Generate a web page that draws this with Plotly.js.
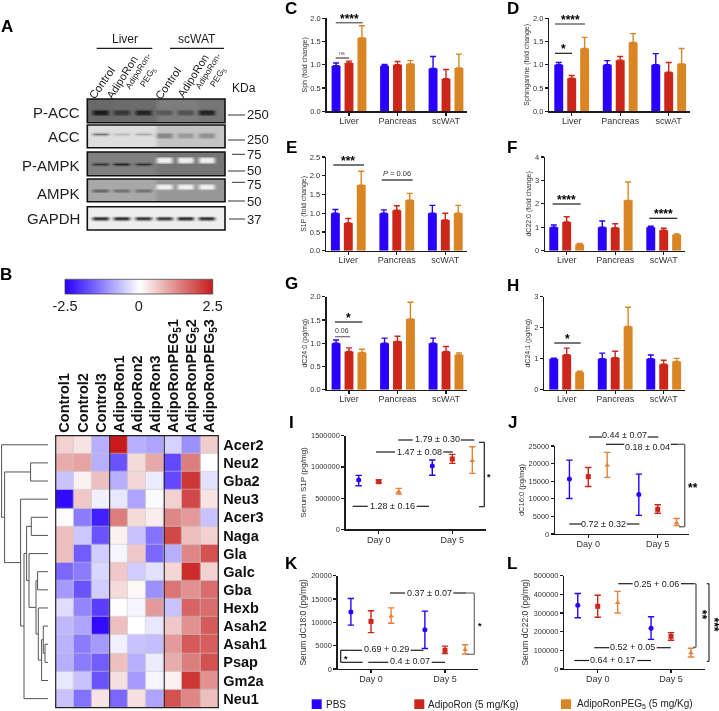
<!DOCTYPE html>
<html><head><meta charset="utf-8">
<script src="https://cdn.plot.ly/plotly-3.0.1.min.js"></script>
<style>html,body{margin:0;padding:0;background:#fff}#g{width:719px;height:711px;filter:blur(0.3px)}</style>
</head><body><div id="g"></div>
<script>
const W=719,H=711,FONT='"Liberation Sans",Arial,sans-serif';
const BLUE='#2b00ff',RED='#cc2519',ORANGE='#d98523',ORANGE2='#e6803a',INK='#1c1c1c',GREY='#6e6e6e';
const seriesColors=[BLUE,RED,ORANGE];

/* ---------- bar panels: [PBS, AdipoRon, AdipoRonPEG5] per tissue ---------- */
const tissues=['Liver','Pancreas','scWAT'];
const tissuesD=['Liver','Pancreas','scwAT'];
const sphMeans=[[.98,.98,.92],[1.04,1.0,.7],[1.58,1.02,.93]];
const sphTops=[[1.04,1.01,1.18],[1.08,1.07,.9],[1.84,1.09,1.23]];
const sphingMeans=[[1,1,1],[.71,1.1,.84],[1.35,1.48,1.02]];
const sphingTops=[[1.05,1.09,1.24],[.77,1.18,1.05],[1.59,1.67,1.35]];
const s1pMeans=[[1,1,1],[.74,1.08,.82],[1.75,1.35,1.0]];
const s1pTops=[[1.1,1.09,1.21],[.86,1.2,1.0],[2.12,1.53,1.21]];
const c22Means=[[1,1,1],[1.23,.98,.87],[.27,2.15,.68]];
const c22Tops=[[1.1,1.27,1.05],[1.45,1.15,.96],[.31,2.93,.72]];
const c24Means=[[1,1,1],[.82,1.04,.82],[.8,1.52,.75]];
const c24Tops=[[1.07,1.11,1.11],[.9,1.15,.93],[.87,1.88,.79]];
const c241Means=[[1,1,1],[1.13,1.03,.82],[.56,2.04,.91]];
const c241Tops=[[1.02,1.18,1.12],[1.34,1.24,.95],[.6,2.66,1.01]];

/* ---------- serum panels: rows = series, [day0, day5] ---------- */
const days=['Day 0','Day 5'];
const iMid=[[790000,1014000],[763000,1126000],[603000,1100000]];
const iHigh=[[864000,1110000],[790000,1200000],[656000,1324000]];
const iLow=[[699000,865000],[745000,1057000],[566000,897000]];
const jMid=[[15600,11200],[16300,7000],[19500,3100]];
const jHigh=[[21000,17000],[18900,8300],[23200,4400]];
const jLow=[[10100,5300],[13500,5900],[16100,2400]];
const kMid=[[12200,8400],[10200,4000],[11300,4100]];
const kHigh=[[15100,12400],[12500,4900],[13100,5200]];
const kLow=[[9400,4400],[7800,3300],[9800,3200]];
const lMid=[[341000,218000],[336000,175000],[355000,86000]];
const lHigh=[[405000,280000],[395000,195000],[416000,111000]];
const lLow=[[275000,159000],[277000,154000],[300000,64000]];

/* ---------- heatmap ---------- */
const sampleLabels=['Control1','Control2','Control3','AdipoRon1','AdipoRon2','AdipoRon3','AdipoRonPEG<sub>5</sub>1','AdipoRonPEG<sub>5</sub>2','AdipoRonPEG<sub>5</sub>3'];
const geneLabels=['Acer2','Neu2','Gba2','Neu3','Acer3','Naga','Gla','Galc','Gba','Hexb','Asah2','Asah1','Psap','Gm2a','Neu1'];
const geneZ=[
[.5,.3,-.8,2.5,-.8,-.9,-.45,-1.1,.55],
[.9,1.0,-.8,-1.7,.4,.95,-1.8,1.4,0],
[-.6,.15,.7,-.8,.45,-.2,-1.8,2.2,-.3],
[-2.4,.6,-.15,-.25,-.9,-.05,.5,2.0,.3],
[.03,-1.3,-2.2,1.4,.4,.2,1.3,1.1,-.6],
[.7,-.55,-1.7,.15,-.6,-1.4,2.0,.7,.5],
[.7,-1.6,-.5,-.1,.6,-1.5,-.8,1.3,1.9],
[-1.5,-1.3,-.4,.6,-.5,-.3,.45,2.3,.5],
[-1.0,-1.7,-.5,.4,.08,-1.1,1.5,1.2,1.6],
[-.35,-1.2,-1.9,.02,-.1,1.1,-.6,1.7,1.6],
[-.7,-.9,-2.4,.7,0,-.25,.6,1.2,1.8],
[-.75,-1.3,-1.0,-.15,-.6,-.65,1.1,1.8,1.75],
[-.8,-1.3,-1.6,.7,-.8,-.2,.9,1.4,1.9],
[-.25,-.6,-1.7,.35,-1.0,-.1,.15,2.2,1.2],
[-.6,-1.4,.3,-1.5,.35,-.9,1.9,1.3,.7]];
const colorbarValues=[-2.5,-2,-1.5,-1,-.5,0,.5,1,1.5,2,2.5];
/* dendrogram merges: [child A, child B, distance from leaves]; child < 15 is a leaf row, child >=15 is merge (child-15) */
const dendroMerges=[[1,2,17.7],[4,5,17],[7,8,10.7],[11,12,3.3],[10,18,5],[19,13,6.7],[9,20,10],[17,21,12.3],[6,22,19.3],[16,23,21.7],[24,14,24.3],[3,25,27.7],[15,26,43.7],[0,27,46.7]];

/* ---------- western blots: grey levels per lane ---------- */
const blotNames=['P-ACC','ACC','P-AMPK','AMPK','GAPDH'];
const blotBg=[[105,108,108,125,125,118],[222,222,222,196,196,196],[128,128,128,118,118,118],[168,168,168,150,150,150],[238,238,238,238,238,238]];
const blotBand=[[28,55,35,88,82,35],[120,185,170,135,155,145],[50,32,50,238,238,238],[95,105,105,240,240,240],[15,15,22,28,10,18]];
const blotRowsLiver=[[4,5],[3],[4],[4],[4]];
const blotRowsWat=[[4,5],[3,4],[2,3],[2,3],[4]];

/* ---------- builders ---------- */
const traces=[],shapes=[],annotations=[],layout={};
let axisCount=0;
const px=x=>x/W, py=y=>1-y/H;
function addAxes(x0,x1,yTop,yBot,xopt,yopt){
  axisCount++;const n=axisCount===1?'':String(axisCount);
  layout['xaxis'+n]=Object.assign({domain:[px(x0),px(x1)],anchor:'y'+n,showgrid:false,zeroline:false,fixedrange:true},xopt);
  layout['yaxis'+n]=Object.assign({domain:[py(yBot),py(yTop)],anchor:'x'+n,showgrid:false,zeroline:false,fixedrange:true},yopt);
  return {xaxis:'x'+n,yaxis:'y'+n};
}
function seg(x0,y0,x1,y1,color,width){shapes.push({type:'line',xref:'paper',yref:'paper',x0:px(x0),y0:py(y0),x1:px(x1),y1:py(y1),line:{color:color||INK,width:width||1.2}});}
function label(text,x,y,size,o){o=o||{};annotations.push({text,x:px(x),y:py(y),xref:'paper',yref:'paper',showarrow:false,xanchor:o.anchor||'center',yanchor:'middle',textangle:o.angle||0,align:o.align||'center',borderpad:0,font:{family:FONT,size,color:o.color||INK}});}
const bold=s=>'<b>'+s+'</b>';

function axisStyle(size){return {showline:true,linecolor:INK,linewidth:1.4,ticks:'outside',ticklen:3,tickwidth:1.2,tickcolor:INK,tickfont:{family:FONT,size,color:'#333'}};}

function barPanel(box,cats,means,tops,yMax,dtick,title,tickFmt){
  const ax=addAxes(box[0],box[1],box[2],box[3],
    Object.assign(axisStyle(9),{ticklabelstandoff:-3,type:'category',categoryorder:'array',categoryarray:cats,range:[-(box[4]-box[0])/48.5,(box[1]-box[4])/48.5]}),
    Object.assign(axisStyle(7.5),{range:[0,yMax],dtick,tickformat:tickFmt,title:{text:title,font:{family:FONT,size:7,color:'#333'},standoff:2}}));
  means.forEach((m,i)=>traces.push(Object.assign({type:'bar',x:cats,y:m,marker:{color:seriesColors[i],line:{width:0}},showlegend:false,
    error_y:{type:'data',symmetric:false,array:tops[i].map((t,j)=>t-m[j]),arrayminus:m.map(()=>0),color:seriesColors[i],thickness:1.4,width:3}},ax)));
}
const seriesOffset=[-0.272,0,0.272],seriesSymbol=['circle','square','triangle-up'],scatterColors=[BLUE,RED,ORANGE2];
function dotPanel(box,mid,high,low,yMax,dtick,title,titleSize){
  const pitch=box[5]-box[4];
  const ax=addAxes(box[0],box[1],box[2],box[3],
    Object.assign(axisStyle(9),{ticklabelstandoff:-2,range:[(box[0]-box[4])/pitch,(box[1]-box[4])/pitch],tickvals:[0,1],ticktext:days}),
    Object.assign(axisStyle(7.4),{range:[0,yMax],dtick,tickformat:'d',title:{text:title,font:{family:FONT,size:titleSize,color:'#333'},standoff:3}}));
  mid.forEach((m,i)=>traces.push(Object.assign({type:'scatter',mode:'markers',x:[0+seriesOffset[i],1+seriesOffset[i]],y:m,showlegend:false,cliponaxis:false,
    marker:{color:scatterColors[i],symbol:seriesSymbol[i],size:5},
    error_y:{type:'data',symmetric:false,array:high[i].map((h,j)=>h-m[j]),arrayminus:low[i].map((l,j)=>m[j]-l),color:scatterColors[i],thickness:1.4,width:3.2}},ax)));
}

/* bar panels: [axis x, x end, y top, y zero, liver centre] */
barPanel([326.7,466.7,18.3,111.3,349],tissues,sphMeans,sphTops,2,.5,'Sph (fold change)','.1f');
barPanel([549.3,690,18.3,111.3,571.7],tissuesD,sphingMeans,sphingTops,2,.5,'Sphinganine (fold change)','.1f');
barPanel([326,466.7,157,250.7,348.3],tissues,s1pMeans,s1pTops,2.5,.5,'S1P (fold change)','.1f');
barPanel([545,685,157,250.7,566.7],tissues,c22Means,c22Tops,4,1,'dC22:0 (fold change)','d');
barPanel([326.7,466.7,296.7,389.7,349],tissues,c24Means,c24Tops,2,.5,'dC24:0 (pg/mg)','.1f');
barPanel([544.3,685,296.7,389.7,566.7],tissues,c241Means,c241Tops,3,1,'dC24:1 (pg/mg)','d');

/* dot panels: [axis x, x end, y top, y zero, day0 x, day5 x] */
dotPanel([345.7,485.7,435.7,529.3,378.7,452.3],iMid,iHigh,iLow,1500000,500000,'Serum S1P (pg/mg)',8);
dotPanel([555,689,446,534,588.3,657.7],jMid,jHigh,jLow,25000,5000,'dC16:0 (pg/mg)',7.5);
dotPanel([337.7,478.3,575.7,669,371,445],kMid,kHigh,kLow,20000,5000,'Serum dC18:0 (pg/mg)',8.5);
dotPanel([564.3,705,575.7,669,597.7,671],lMid,lHigh,lLow,500000,100000,'Serum dC22:0 (pg/mg)',8.5);

/* heat map */
const hmScale=[[0,'#2a00ff'],[.25,'#8f80ff'],[.5,'#ffffff'],[.75,'#e08c8c'],[1,'#c81a1a']];
const hmAxes=addAxes(55.7,218.3,435.7,707.7,
  {type:'category',side:'top',tickangle:-90,ticks:'',ticklabelstandoff:2,tickfont:{family:FONT,size:14.5,color:'#111'},categoryorder:'array',categoryarray:sampleLabels},
  {type:'category',side:'right',autorange:'reversed',ticks:'',ticklabelstandoff:4,tickfont:{family:FONT,size:14.5,color:'#111'},categoryorder:'array',categoryarray:geneLabels});
traces.push(Object.assign({type:'heatmap',x:sampleLabels.map(bold),y:geneLabels.map(bold),z:geneZ,zmin:-2.5,zmax:2.5,colorscale:hmScale,showscale:false,xgap:.6,ygap:.6},hmAxes));
layout[hmAxes.xaxis.replace('x','xaxis')].categoryarray=sampleLabels.map(bold);
layout[hmAxes.yaxis.replace('y','yaxis')].categoryarray=geneLabels.map(bold);
shapes.push({type:'rect',xref:'paper',yref:'paper',layer:'below',x0:px(55.7),x1:px(218.3),y0:py(707.7),y1:py(435.7),fillcolor:'#c8c8c8',line:{width:0}});
shapes.push({type:'rect',xref:'paper',yref:'paper',x0:px(55.7),x1:px(218.3),y0:py(707.7),y1:py(435.7),line:{color:'#222',width:1.2}});
seg(109.7,435.7,109.7,707.7,'#222',1);seg(164.3,435.7,164.3,707.7,'#222',1);

/* colour bar */
const cbAxes=addAxes(65,212.7,279.3,294,
  {range:[-2.5,2.5],tickvals:[-2.5,0,2.5],ticktext:['-2.5','0','2.5'],ticks:'outside',ticklen:2,ticklabelstandoff:-3,tickcolor:'rgba(0,0,0,0)',tickfont:{family:FONT,size:14.5,color:'#222'}},
  {range:[0,1],visible:false});
traces.push(Object.assign({type:'heatmap',x:colorbarValues,y:[0,1],z:[colorbarValues,colorbarValues],zmin:-2.5,zmax:2.5,colorscale:hmScale,showscale:false,zsmooth:'best'},cbAxes));
shapes.push({type:'rect',xref:'paper',yref:'paper',x0:px(65),x1:px(212.7),y0:py(294),y1:py(279.3),line:{color:'#444',width:.8}});

/* dendrogram */
const dAxes=addAxes(0,48.3,435.7,707.7,{range:[46.7+1.6,0],visible:false},{range:[14.5,-.5],visible:false});
(function(){
  const mergeY=[];const dx=[],dy=[];
  const nodeY=i=>i<15?i:mergeY[i-15], nodeD=i=>i<15?0:dendroMerges[i-15][2];
  dendroMerges.forEach(m=>{
    const ya=nodeY(m[0]),yb=nodeY(m[1]),h=m[2];
    dx.push(nodeD(m[0]),h,h,nodeD(m[1]),null);dy.push(ya,ya,yb,yb,null);
    mergeY.push((ya+yb)/2);
  });
  traces.push(Object.assign({type:'scatter',mode:'lines',x:dx,y:dy,line:{color:'#555',width:1},showlegend:false,hoverinfo:'skip',cliponaxis:false},dAxes));
})();

/* western blots as small smoothed grey heat maps */
const blotBoxes=[[99,122.7],[125,147.7],[152,175.7],[179,201.7],[206.7,230]];
const greyScale=[[0,'#000'],[1,'#fff']];
blotNames.forEach((name,b)=>{
  const rows=9,cols=26,z=[];
  for(let r=0;r<rows;r++){const line=[];for(let c=0;c<cols;c++){
    const lane=Math.max(0,Math.min(5,Math.round((c-2.4)/3.93)));
    const centre=Math.round(2.4+3.93*lane);
    const bandRows=lane<3?blotRowsLiver[b]:blotRowsWat[b];
    line.push(Math.abs(c-centre)<=1&&bandRows.includes(r)?blotBand[b][lane]:blotBg[b][lane]);
  }z.push(line);}
  const ax=addAxes(87.3,225,blotBoxes[b][0],blotBoxes[b][1],{range:[-.5,25.5],visible:false},{range:[8.5,-.5],visible:false});
  traces.push(Object.assign({type:'heatmap',z,zmin:0,zmax:255,colorscale:greyScale,showscale:false,zsmooth:'best',hoverinfo:'skip'},ax));
  shapes.push({type:'rect',xref:'paper',yref:'paper',x0:px(87.3),x1:px(225),y0:py(blotBoxes[b][1]),y1:py(blotBoxes[b][0]),line:{color:'#111',width:1.6}});
});

/* panel A text */
const blotLabelY=[112.7,136.7,165.7,193.3,218.3];
blotNames.forEach((n,i)=>label(n,81,blotLabelY[i],15,{anchor:'right',color:'#222'}));
label('Liver',125,38.7,12);label('scWAT',197.3,38.7,12);
seg(96.7,48.3,152.3,48.3,INK,1.3);seg(170,48.3,224,48.3,INK,1.3);
label('Control',101.7,83,11.2,{angle:-55});label('AdipoRon',122.3,77.3,11,{angle:-58});
label('AdipoRon-<br>PEG<sub>5</sub>',143.3,74,8.5,{angle:-58});
label('Control',168.3,83,11.2,{angle:-55});label('AdipoRon',192.7,76,11,{angle:-58});
label('AdipoRon-<br>PEG<sub>5</sub>',213.3,74,8.5,{angle:-58});
label('KDa',244.5,88,12);
[['250',115,228,115],['250',140,228,139.5],['75',154.3,232,154.5],['50',171,228,171],['75',182.3,232,184.5],['50',201,228,201],['37',219,229,219]].forEach(t=>{
  seg(t[2],t[1],245,t[1],'#333',1);label(t[0],246,t[3],13,{anchor:'left',color:'#222'});});

/* panel letters */
[['A',7,26],['B',6,274],['C',291,9],['D',512.7,8],['E',291,147],['F',512,147],['G',291,284],['H',512.7,285],['I',291,423],['J',512.7,423],['K',291,563],['L',512,563]]
  .forEach(t=>label(bold(t[0]),t[1],t[2],17,{color:'#000'}));

/* significance lines on bar panels */
const stars=(s,x,y)=>label(bold(s),x,y,12,{color:'#000'});
seg(335.7,22.7,362.7,22.7,GREY,1.5);stars('****',349,19);
seg(335.7,58,349,58,INK,1);label('ns',342.3,52.7,5.5,{color:'#555'});
seg(555,24,585,24,GREY,1.5);stars('****',570,20);
seg(555,53.3,572,53.3,INK,1.2);stars('*',563.3,49);
seg(333.3,165,364,165,INK,1.2);stars('***',348.3,161);
seg(381.7,180,412.7,180,INK,1.2);label('<i>P</i> = 0.06',397.3,173.7,7.5,{color:'#333'});
seg(552.7,204,580.7,204,INK,1.2);stars('****',566.7,200);
seg(649.3,218.3,677.3,218.3,INK,1.2);stars('****',663.3,214);
seg(335,322,362.3,322,INK,1.2);stars('*',348.7,318);
seg(335,336.7,350,336.7,GREY,1.2);label('0.06',342.3,330,7,{color:'#333'});
seg(554.3,343,580.7,343,INK,1.2);stars('*',567.3,339);

/* ratio labels on serum panels */
function ratio(text,cx,cy,a0,a1,b0,b1,ly,size){
  label(text,cx,cy,size||9,{color:'#222'});
  seg(a0,ly,a1,ly,INK,1.2);seg(b0,ly,b1,ly,INK,1.2);
}
ratio('1.79 ± 0.30',437.3,438.7,398.3,412.7,460.7,474.3,440);
ratio('1.47 ± 0.08',419.3,452,376,395,443.3,452.7,452);
ratio('1.28 ± 0.16',392.3,506.3,352.7,367.7,416.7,429,506.3);
seg(479,442.3,484.3,442.3,INK,1.2);seg(484.3,442.3,484.3,506.7,INK,1.2);seg(484.3,506.7,479,506.7,INK,1.2);
label(bold('*'),489,477,9,{color:'#000'});

ratio('0.44 ± 0.07',624.7,435,589,602.3,647.7,658.3,437);
ratio('0.18 ± 0.04',647.3,446.7,606,624.3,670.7,678.3,444.3);
ratio('0.72 ± 0.32',603.7,524,569.3,581.7,626.7,639.3,524);
seg(678.3,444.3,684.7,444.3,GREY,1.5);seg(684.7,444.3,684.7,526.7,GREY,1.5);seg(684.7,526.7,679,526.7,GREY,1.5);
label(bold('**'),692.7,488,12,{color:'#000'});

ratio('0.37 ± 0.07',429,593,390,405,453.3,466,593);
ratio('0.69 + 0.29',386,648.7,349.3,362,410.7,423.3,650.3);
ratio('0.4 ± 0.07',410,661.3,368.3,388.3,431.7,445,662.3);
seg(466,593,474.3,593,GREY,1.2);seg(474.3,593,474.3,654.3,GREY,1.2);seg(474.3,654.3,466.7,654.3,GREY,1.2);
label(bold('*'),480.3,626,9,{color:'#000'});
seg(349.3,650.3,340.7,650.3,INK,1.2);seg(340.7,650.3,340.7,662.3,INK,1.2);seg(340.7,662.3,362.7,662.3,INK,1.2);
label(bold('*'),346,658.5,9,{color:'#000'});

ratio('0.25 + 0.06',656.7,583.7,618.3,632.7,681,694.3,583.7);
ratio('0.52 + 0.05',632.7,647,594.3,609.3,656.7,670.7,647.7);
ratio('0.64 + 0.17',612.7,660,574.3,589,637.3,651,660.5);
seg(694.3,583.7,696,583.7,GREY,1.5);seg(696,583.7,696,647.3,GREY,1.5);seg(696,647.3,693,647.3,GREY,1.5);
seg(706.7,583.7,709,583.7,INK,1.1);seg(709,583.7,709,661.3,INK,1.1);seg(709,661.3,706.7,661.3,INK,1.1);
label(bold('**'),701.5,614.3,12,{angle:90,color:'#000'});
label(bold('***'),713.5,624,12,{angle:90,color:'#000'});

/* legend */
[[311.7,'PBS',325,BLUE],[414.3,'AdipoRon (5 mg/Kg)',427.3,RED],[561,'AdipoRonPEG<sub>5</sub> (5 mg/Kg)',576,ORANGE]].forEach(l=>{
  shapes.push({type:'rect',xref:'paper',yref:'paper',x0:px(l[0]),x1:px(l[0]+10),y0:py(709),y1:py(699.3),fillcolor:l[3],line:{width:0}});
  label(l[1],l[2],704.3,10,{anchor:'left',color:'#222'});
});

Object.assign(layout,{width:W,height:H,margin:{l:0,r:0,t:0,b:0,pad:0},paper_bgcolor:'#fff',plot_bgcolor:'rgba(0,0,0,0)',showlegend:false,
  barmode:'group',bargap:.2,bargroupgap:.31,font:{family:FONT},shapes,annotations,hovermode:false});
Plotly.newPlot('g',traces,layout,{staticPlot:true,displayModeBar:false});
</script></body></html>
